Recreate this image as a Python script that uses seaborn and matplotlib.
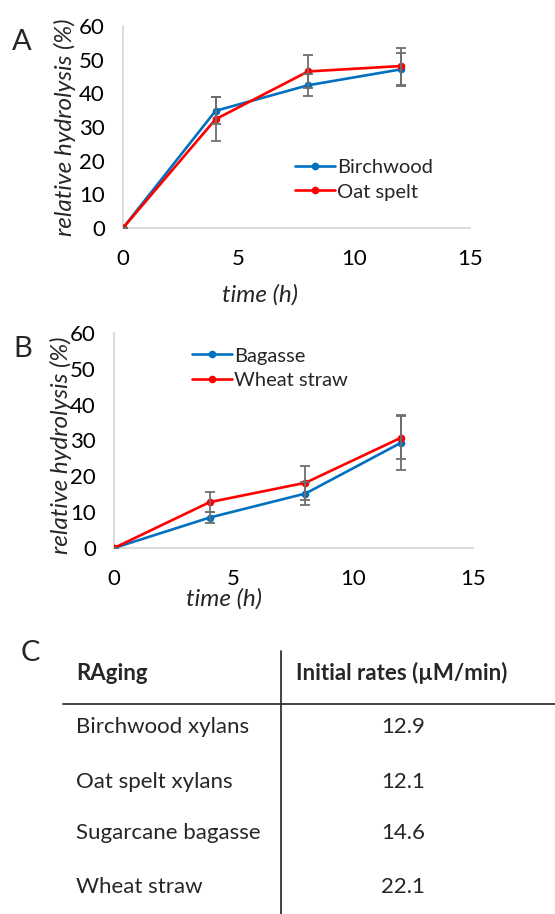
import numpy as np
import pandas as pd
import seaborn as sns
import matplotlib.pyplot as plt
from matplotlib.lines import Line2D

# ---- data ----
time_h = [0, 4, 8, 12]

birchwood = [0, 34.8, 42.4, 47.1]
birchwood_sd = [0, 4.0, 3.2, 5.0]
oat_spelt = [0, 32.3, 46.5, 48.1]
oat_spelt_sd = [0, 6.5, 5.0, 5.5]

bagasse = [0, 8.5, 15.2, 29.4]
bagasse_sd = [0, 1.5, 3.2, 7.7]
wheat_straw = [0, 12.8, 18.2, 30.8]
wheat_straw_sd = [0, 2.7, 4.8, 6.0]

table_header = ["RAging", "Initial rates (\u00b5M/min)"]
substrates = ["Birchwood xylans", "Oat spelt xylans", "Sugarcane bagasse", "Wheat straw"]
initial_rates = [12.9, 12.1, 14.6, 22.1]

BLUE = "#0070C0"
RED = "#FF0000"
GRID = "#D9D9D9"
ERR = "#6E6E6E"
TICK_FS = 16
LAB_FS = 17.5
LEG_FS = 14.5

sns.set_style("white")
plt.rcParams['font.family'] = ['Lato', 'DejaVu Sans']


def panel(ax, names, means, sds, colors, leg_xy):
    frames = []
    for n, m in zip(names, means):
        frames.append(pd.DataFrame({"time": time_h, "value": m, "series": n}))
    df = pd.concat(frames, ignore_index=True)
    sns.lineplot(data=df, x="time", y="value", hue="series", hue_order=names,
                 palette=colors, marker="o", markersize=5.5, markeredgewidth=0,
                 linewidth=1.9, ax=ax, zorder=2)
    for m, s in zip(means, sds):
        ax.errorbar(time_h, m, yerr=s, fmt="none", ecolor=ERR, elinewidth=1.3,
                    capsize=3.5, capthick=1.3, zorder=3)
    ax.set_xlim(0, 15)
    ax.set_ylim(0, 60)
    ax.set_xticks([0, 5, 10, 15])
    ax.set_yticks(range(0, 61, 10))
    ax.tick_params(axis="both", length=0, labelsize=TICK_FS, colors="#000000")
    ax.tick_params(axis="x", pad=15)
    ax.tick_params(axis="y", pad=13)
    sns.despine(ax=ax)
    for sp in ["left", "bottom"]:
        ax.spines[sp].set_color(GRID)
        ax.spines[sp].set_linewidth(1.3)
        ax.spines[sp].set_zorder(0.5)
    ax.set_ylabel("relative hydrolysis (%)", fontsize=LAB_FS, style="italic")
    ax.set_xlabel("time (h)", fontsize=LAB_FS, style="italic")
    handles, labels = ax.get_legend_handles_labels()
    ax.legend(handles, labels, loc="center left", bbox_to_anchor=leg_xy,
              frameon=False, fontsize=LEG_FS, handlelength=2.0, handletextpad=0.1,
              borderpad=0, borderaxespad=0, labelspacing=0.35)


fig = plt.figure(figsize=(5.55, 9.14), dpi=100)

axA = fig.add_axes([123 / 555, 1 - 228 / 914, 347 / 555, 202 / 914])
panel(axA, ["Birchwood", "Oat spelt"], [birchwood, oat_spelt],
      [birchwood_sd, oat_spelt_sd], [BLUE, RED], (0.496, 0.238))
axA.xaxis.set_label_coords((260 - 123) / 347, (228 - 284) / 202)
axA.yaxis.set_label_coords((76 - 123) / 347, 0.5)

axB = fig.add_axes([114 / 555, 1 - 548 / 914, 359 / 555, 215 / 914])
panel(axB, ["Bagasse", "Wheat straw"], [bagasse, wheat_straw],
      [bagasse_sd, wheat_straw_sd], [BLUE, RED], (0.217, 0.837))
axB.xaxis.set_label_coords((224 - 114) / 359, (548 - 588) / 215)
axB.yaxis.set_label_coords((72 - 114) / 359, 0.48)

# panel letters
fig.text(12 / 555, 1 - 42 / 914, "A", fontsize=21, va="center", ha="left")
fig.text(13 / 555, 1 - 349 / 914, "B", fontsize=21, va="center", ha="left")
fig.text(21 / 555, 1 - 653 / 914, "C", fontsize=21, va="center", ha="left")

# ---- table C ----
TFS = 16
head_y = 673
row_y = [727, 782, 833, 887]
fig.text(76 / 555, 1 - head_y / 914, table_header[0], fontsize=TFS,
         fontweight="bold", va="center", ha="left")
fig.text(402 / 555, 1 - head_y / 914, table_header[1], fontsize=TFS,
         fontweight="bold", va="center", ha="center")
for name, rate, y in zip(substrates, initial_rates, row_y):
    fig.text(76 / 555, 1 - y / 914, name, fontsize=TFS, va="center", ha="left")
    fig.text(403 / 555, 1 - y / 914, f"{rate:.1f}", fontsize=TFS,
             va="center", ha="center")

fig.add_artist(Line2D([63 / 555, 1.0], [1 - 704 / 914, 1 - 704 / 914],
                      color="#333333", linewidth=1.3, transform=fig.transFigure))
fig.add_artist(Line2D([281 / 555, 281 / 555], [1 - 651 / 914, 0.0],
                      color="#333333", linewidth=1.3, transform=fig.transFigure))

fig.savefig("out.png", dpi=100)
